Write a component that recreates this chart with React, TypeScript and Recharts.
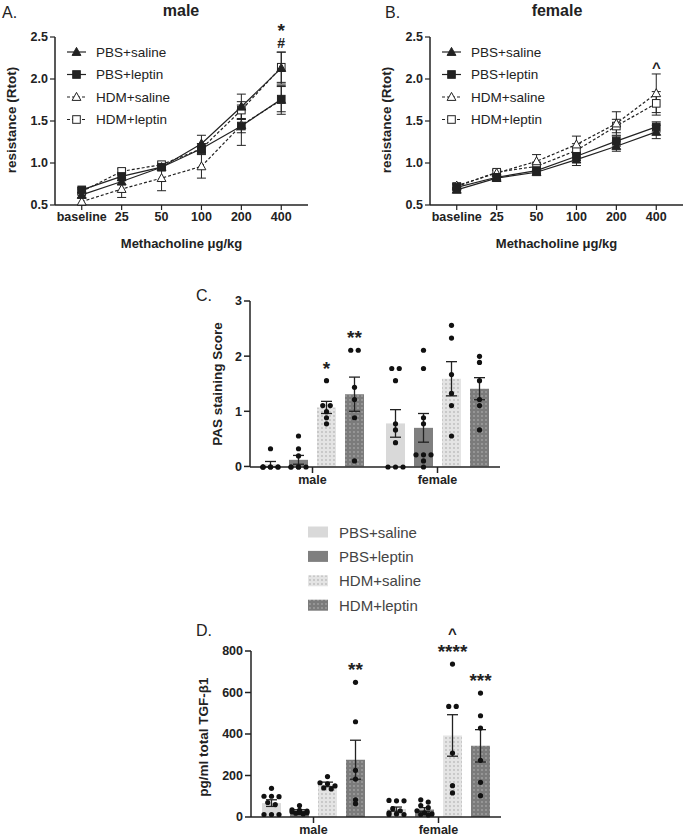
import React from 'react';
import {
  ComposedChart,
  Line,
  Bar,
  Scatter,
  XAxis,
  YAxis,
  ErrorBar,
  Legend,
  ReferenceDot
} from 'recharts';

const FONT = '"Liberation Sans", Arial, Helvetica, sans-serif';
const INK = '#222';

const doses = ['baseline', '25', '50', '100', '200', '400'];
const treatments = ['PBS+saline', 'PBS+leptin', 'HDM+saline', 'HDM+leptin'];
const sexes = ['male', 'female'];

// A. male airway resistance, mean and SEM per dose
const malePbsSaline = [0.62, 0.78, 0.95, 1.23, 1.67, 2.13];
const malePbsSalineSem = [0.03, 0.04, 0.03, 0.1, 0.15, 0.19];
const malePbsLeptin = [0.68, 0.84, 0.95, 1.17, 1.44, 1.76];
const malePbsLeptinSem = [0.03, 0.05, 0.03, 0.06, 0.08, 0.15];
const maleHdmSaline = [0.54, 0.69, 0.82, 0.96, 1.45, 1.75];
const maleHdmSalineSem = [0.04, 0.1, 0.15, 0.14, 0.24, 0.17];
const maleHdmLeptin = [0.66, 0.9, 0.98, 1.17, 1.63, 2.14];
const maleHdmLeptinSem = [0.03, 0.03, 0.03, 0.06, 0.1, 0.18];

// B. female airway resistance
const femalePbsSaline = [0.68, 0.82, 0.89, 1.04, 1.2, 1.37];
const femalePbsSalineSem = [0.03, 0.03, 0.03, 0.07, 0.06, 0.08];
const femalePbsLeptin = [0.71, 0.83, 0.91, 1.08, 1.26, 1.43];
const femalePbsLeptinSem = [0.03, 0.03, 0.03, 0.05, 0.06, 0.06];
const femaleHdmSaline = [0.73, 0.88, 1.02, 1.22, 1.47, 1.83];
const femaleHdmSalineSem = [0.03, 0.03, 0.08, 0.1, 0.14, 0.23];
const femaleHdmLeptin = [0.72, 0.89, 0.96, 1.15, 1.44, 1.71];
const femaleHdmLeptinSem = [0.03, 0.03, 0.05, 0.08, 0.08, 0.14];

// C. PAS staining score, [male, female]
const pasPbsSaline = [0.04, 0.78];
const pasPbsSalineSem = [0.05, 0.25];
const pasPbsLeptin = [0.12, 0.7];
const pasPbsLeptinSem = [0.08, 0.26];
const pasHdmSaline = [1.07, 1.59];
const pasHdmSalineSem = [0.11, 0.31];
const pasHdmLeptin = [1.31, 1.41];
const pasHdmLeptinSem = [0.31, 0.2];
const pasMaleDots = [
  [0.33, 0, 0, 0, 0, 0, 0, 0],
  [0.56, 0.33, 0.2, 0, 0, 0, 0, 0],
  [1.56, 1.11, 1.11, 1.0, 0.89, 0.78],
  [2.11, 2.11, 1.44, 1.22, 0.89, 0.11]
];
const pasFemaleDots = [
  [1.78, 1.78, 1.56, 0.78, 0.67, 0.44, 0, 0, 0],
  [2.11, 1.78, 0.89, 0.78, 0.22, 0.22, 0.22, 0.11, 0],
  [2.56, 2.33, 1.67, 1.33, 1.11, 0.56],
  [2.0, 1.89, 1.56, 1.22, 1.11, 0.67]
];

// D. total TGF-b1 pg/ml, [male, female]
const tgfPbsSaline = [67, 38];
const tgfPbsSalineSem = [16, 10];
const tgfPbsLeptin = [30, 36];
const tgfPbsLeptinSem = [5, 9];
const tgfHdmSaline = [157, 393];
const tgfHdmSalineSem = [11, 100];
const tgfHdmLeptin = [276, 343];
const tgfHdmLeptinSem = [94, 78];
const tgfMaleDots = [
  [138, 100, 100, 98, 70, 60, 12, 12, 12],
  [55, 35, 32, 28, 25, 22, 20, 18, 15],
  [195, 165, 160, 150, 140, 135],
  [649, 459, 225, 183, 83, 64]
];
const tgfFemaleDots = [
  [80, 78, 78, 40, 30, 20, 15, 12, 12],
  [83, 72, 55, 45, 30, 20, 15, 12, 10],
  [737, 533, 533, 308, 151, 116],
  [597, 488, 429, 273, 167, 103]
];

const lineStyles = [
  { shape: 'tri', open: false, dash: undefined as string | undefined },
  { shape: 'sq', open: false, dash: undefined as string | undefined },
  { shape: 'tri', open: true, dash: '3 2' },
  { shape: 'sq', open: true, dash: '3 2' }
];
const barFills = ['#d9d9d9', '#7f7f7f', 'url(#dotLight)', 'url(#dotDark)'];

const BAR_STEP = 28 / 125; // bar spacing in units of one category
const DOT_STEP = 0.06;

const barX = (g: number, s: number) => g + 0.5 + (s - 1.5) * BAR_STEP;

// spread tied values sideways like a prism scatter
function buildDotPoints(groups: number[][][], tol: number) {
  const out: { x: number; v: number }[] = [];
  groups.forEach((series, g) =>
    series.forEach((vals, s) => {
      const sorted = [...vals].sort((a, b) => b - a);
      let i = 0;
      while (i < sorted.length) {
        let j = i;
        while (j + 1 < sorted.length && sorted[i] - sorted[j + 1] <= tol) j++;
        const k = j - i + 1;
        for (let n = 0; n < k; n++) {
          const off = k <= 3 ? n - (k - 1) / 2 : (n % 3) - 1;
          out.push({ x: barX(g, s) + off * DOT_STEP, v: sorted[i + n] });
        }
        i = j + 1;
      }
    })
  );
  return out;
}

function barRows(means: number[][], sems: number[][]) {
  return sexes.map((sex, g) => {
    const r: any = { sex };
    means.forEach((m, i) => {
      r[`m${i}`] = m[g];
      r[`e${i}`] = sems[i][g];
    });
    return r;
  });
}

function Marker({ cx, cy, shape, open }: any) {
  if (cx == null || cy == null) return null;
  const fill = open ? '#fff' : INK;
  if (shape === 'tri') {
    return (
      <path
        d={`M${cx},${cy - 4.6}L${cx + 4.4},${cy + 3.4}L${cx - 4.4},${cy + 3.4}Z`}
        fill={fill}
        stroke={INK}
        strokeWidth={1}
      />
    );
  }
  return <rect x={cx - 3.8} y={cy - 3.8} width={7.6} height={7.6} fill={fill} stroke={INK} strokeWidth={1} />;
}

function SigText(props: any) {
  const vb = props.viewBox || {};
  const cx = (vb.x ?? 0) + (vb.width ?? 0) / 2;
  const cy = (vb.y ?? 0) + (vb.height ?? 0) / 2;
  const { lines, gap, step } = props;
  return (
    <g>
      {lines.map((t: string, i: number) => {
        const star = t.includes('*');
        const fs = star ? 19 : t === '#' ? 14 : 15;
        const lift = star ? 0.58 : t === '#' ? 0.36 : 0.52;
        const yc = cy - gap - i * step;
        return (
          <text key={i} x={cx} y={yc + lift * fs} textAnchor="middle" fontSize={fs} fontWeight={700} fill={INK}>
            {t}
          </text>
        );
      })}
    </g>
  );
}

function LineLegend() {
  return (
    <svg width={125} height={88} style={{ display: 'block' }}>
      {treatments.map((t, i) => {
        const cy = 8 + i * 22.5;
        const st = lineStyles[i];
        return (
          <g key={t}>
            <line x1={0} x2={19} y1={cy} y2={cy} stroke={INK} strokeWidth={1.2} strokeDasharray={st.dash} />
            <Marker cx={9.5} cy={cy} shape={st.shape} open={st.open} />
            <text x={29} y={cy} dominantBaseline="central" fontSize={13.5} fill={INK}>
              {t}
            </text>
          </g>
        );
      })}
    </svg>
  );
}

function BarLegend() {
  return (
    <svg width={140} height={100} style={{ display: 'block' }}>
      {treatments.map((t, i) => {
        const cy = 10 + i * 24.4;
        return (
          <g key={t}>
            <rect x={0} y={cy - 5.5} width={20} height={11} fill={barFills[i]} />
            <text x={31} y={cy} dominantBaseline="central" fontSize={15} fill="#444">
              {t}
            </text>
          </g>
        );
      })}
    </svg>
  );
}

interface ResistanceProps {
  left: number;
  means: number[][];
  sems: number[][];
  sig: string[];
}

function ResistancePanel({ left, means, sems, sig }: ResistanceProps) {
  const rows = doses.map((d, x) => {
    const r: any = { x, dose: d };
    means.forEach((m, i) => {
      r[`m${i}`] = m[x];
      r[`e${i}`] = sems[i][x];
    });
    return r;
  });
  const last = doses.length - 1;
  const peak = Math.max(...means.map((m, i) => m[last] + sems[i][last]));

  return (
    <div style={{ position: 'absolute', left, top: 0 }}>
      <ComposedChart width={310} height={260} data={rows} margin={{ top: 37, right: 2, bottom: 10, left: 4 }}>
        <XAxis
          dataKey="x"
          type="number"
          domain={[-0.67, 5.67]}
          ticks={[0, 1, 2, 3, 4, 5]}
          interval={0}
          tickFormatter={(v: number) => doses[Math.round(v)]}
          height={45}
          axisLine={{ stroke: INK, strokeWidth: 1.5 }}
          tickLine={{ stroke: INK, strokeWidth: 1.2 }}
          tickSize={5}
          tick={{ fill: INK, fontSize: 12.5, fontWeight: 700 }}
          label={{ value: 'Methacholine μg/kg', position: 'insideBottom', offset: 2, fill: INK, fontSize: 13, fontWeight: 700 }}
        />
        <YAxis
          type="number"
          domain={[0.5, 2.5]}
          ticks={[0.5, 1, 1.5, 2, 2.5]}
          interval={0}
          tickFormatter={(v: number) => v.toFixed(1)}
          width={51}
          axisLine={{ stroke: INK, strokeWidth: 1.5 }}
          tickLine={{ stroke: INK, strokeWidth: 1.2 }}
          tickSize={5}
          tick={{ fill: INK, fontSize: 12.5, fontWeight: 700 }}
        />
        {[3, 2, 1, 0].map((i) => (
          <Line
            key={treatments[i]}
            name={treatments[i]}
            dataKey={`m${i}`}
            stroke={INK}
            strokeWidth={1.2}
            strokeDasharray={lineStyles[i].dash}
            isAnimationActive={false}
            activeDot={false}
            dot={(p: any) => (
              <Marker key={`${i}-${p.index}`} cx={p.cx} cy={p.cy} shape={lineStyles[i].shape} open={lineStyles[i].open} />
            )}
          >
            <ErrorBar dataKey={`e${i}`} width={4.5} stroke={INK} strokeWidth={1} />
          </Line>
        ))}
        <ReferenceDot
          x={last}
          y={peak}
          r={0}
          ifOverflow="visible"
          label={<SigText lines={sig} gap={9} step={17} />}
        />
        <Legend
          layout="vertical"
          align="center"
          verticalAlign="middle"
          wrapperStyle={{ left: 67, top: 44 }}
          content={() => <LineLegend />}
        />
      </ComposedChart>
    </div>
  );
}

interface SigMark {
  group: number;
  series: number;
  lines: string[];
}

interface BarPanelProps {
  top: number;
  height: number;
  marginTop: number;
  bottom: number;
  yWidth: number;
  rows: any[];
  dots: number[][][];
  yMax: number;
  ticks: number[];
  tol: number;
  sig: SigMark[];
  legend?: boolean;
}

function BarPanel({ top, height, marginTop, bottom, yWidth, rows, dots, yMax, ticks, tol, sig, legend }: BarPanelProps) {
  const pts = buildDotPoints(dots, tol);
  return (
    <div style={{ position: 'absolute', left: 200, top }}>
      <ComposedChart
        width={310}
        height={height}
        data={rows}
        margin={{ top: marginTop, right: 60 - yWidth, bottom, left: 0 }}
        barSize={19}
        barGap={9}
      >
        <XAxis
          xAxisId="c"
          dataKey="sex"
          height={23}
          axisLine={{ stroke: INK, strokeWidth: 1.5 }}
          tickLine={{ stroke: INK, strokeWidth: 1.5 }}
          tickSize={6}
          tick={{ fill: INK, fontSize: 12.5, fontWeight: 700 }}
        />
        <XAxis xAxisId="n" type="number" dataKey="x" domain={[0, 2]} hide />
        <YAxis
          yAxisId="l"
          type="number"
          domain={[0, yMax]}
          ticks={ticks}
          interval={0}
          width={yWidth}
          axisLine={{ stroke: INK, strokeWidth: 1.5 }}
          tickLine={{ stroke: INK, strokeWidth: 1.5 }}
          tickSize={6}
          tick={{ fill: INK, fontSize: 12.5, fontWeight: 700 }}
        />
        <YAxis yAxisId="s" type="number" dataKey="v" domain={[0, yMax]} hide />
        {treatments.map((t, i) => (
          <Bar key={t} name={t} xAxisId="c" yAxisId="l" dataKey={`m${i}`} fill={barFills[i]} isAnimationActive={false}>
            <ErrorBar dataKey={`e${i}`} width={5.5} stroke={INK} strokeWidth={1.3} />
          </Bar>
        ))}
        <Scatter
          data={pts}
          xAxisId="n"
          yAxisId="s"
          dataKey="v"
          isAnimationActive={false}
          shape={(p: any) => <circle cx={p.cx} cy={p.cy} r={2.6} fill="#111" />}
        />
        {sig.map((s) => (
          <ReferenceDot
            key={`${s.group}-${s.series}`}
            xAxisId="n"
            yAxisId="s"
            x={barX(s.group, s.series)}
            y={Math.max(...dots[s.group][s.series])}
            r={0}
            ifOverflow="visible"
            label={<SigText lines={s.lines} gap={17} step={16} />}
          />
        ))}
        {legend && (
          <Legend
            layout="vertical"
            align="center"
            verticalAlign="middle"
            wrapperStyle={{ left: 108, top: 232 }}
            content={() => <BarLegend />}
          />
        )}
      </ComposedChart>
    </div>
  );
}

function Caption({ cx, cy, size, bold, children }: any) {
  const lh = size * 1.2;
  return (
    <div
      style={{
        position: 'absolute',
        left: cx - 100,
        top: cy - lh / 2,
        width: 200,
        height: lh,
        lineHeight: `${lh}px`,
        textAlign: 'center',
        fontSize: size,
        fontWeight: bold ? 700 : 400,
        whiteSpace: 'nowrap'
      }}
    >
      {children}
    </div>
  );
}

function VCaption({ cx, cy, size, children }: any) {
  const lh = size * 1.2;
  return (
    <div
      style={{
        position: 'absolute',
        left: cx - 100,
        top: cy - lh / 2,
        width: 200,
        height: lh,
        lineHeight: `${lh}px`,
        textAlign: 'center',
        fontSize: size,
        fontWeight: 700,
        whiteSpace: 'nowrap',
        transform: 'rotate(-90deg)'
      }}
    >
      {children}
    </div>
  );
}

function Corner({ x, cy, children }: any) {
  return (
    <div style={{ position: 'absolute', left: x, top: cy - 10, height: 20, lineHeight: '20px', fontSize: 16 }}>
      {children}
    </div>
  );
}

export default function App() {
  const pasRows = barRows(
    [pasPbsSaline, pasPbsLeptin, pasHdmSaline, pasHdmLeptin],
    [pasPbsSalineSem, pasPbsLeptinSem, pasHdmSalineSem, pasHdmLeptinSem]
  );
  const tgfRows = barRows(
    [tgfPbsSaline, tgfPbsLeptin, tgfHdmSaline, tgfHdmLeptin],
    [tgfPbsSalineSem, tgfPbsLeptinSem, tgfHdmSalineSem, tgfHdmLeptinSem]
  );

  return (
    <div
      style={{
        position: 'absolute',
        left: 0,
        top: 0,
        width: 685,
        height: 840,
        background: '#fff',
        color: INK,
        fontFamily: FONT,
        overflow: 'hidden'
      }}
    >
      <svg width={0} height={0} style={{ position: 'absolute' }}>
        <defs>
          <pattern id="dotLight" width={4} height={4} patternUnits="userSpaceOnUse">
            <rect width={4} height={4} fill="#e4e4e4" />
            <circle cx={2} cy={2} r={0.7} fill="#999" />
          </pattern>
          <pattern id="dotDark" width={4} height={4} patternUnits="userSpaceOnUse">
            <rect width={4} height={4} fill="#7b7b7b" />
            <circle cx={2} cy={2} r={0.7} fill="#c4c4c4" />
          </pattern>
        </defs>
      </svg>

      <ResistancePanel
        left={0}
        means={[malePbsSaline, malePbsLeptin, maleHdmSaline, maleHdmLeptin]}
        sems={[malePbsSalineSem, malePbsLeptinSem, maleHdmSalineSem, maleHdmLeptinSem]}
        sig={['#', '*']}
      />
      <ResistancePanel
        left={375}
        means={[femalePbsSaline, femalePbsLeptin, femaleHdmSaline, femaleHdmLeptin]}
        sems={[femalePbsSalineSem, femalePbsLeptinSem, femaleHdmSalineSem, femaleHdmLeptinSem]}
        sig={['^']}
      />

      <BarPanel
        top={290}
        height={330}
        marginTop={11}
        bottom={130}
        yWidth={50}
        rows={pasRows}
        dots={[pasMaleDots, pasFemaleDots]}
        yMax={3}
        ticks={[0, 1, 2, 3]}
        tol={0.05}
        sig={[
          { group: 0, series: 2, lines: ['*'] },
          { group: 0, series: 3, lines: ['**'] }
        ]}
        legend
      />
      <BarPanel
        top={620}
        height={220}
        marginTop={31}
        bottom={0}
        yWidth={51}
        rows={tgfRows}
        dots={[tgfMaleDots, tgfFemaleDots]}
        yMax={800}
        ticks={[0, 200, 400, 600, 800]}
        tol={15}
        sig={[
          { group: 0, series: 3, lines: ['**'] },
          { group: 1, series: 2, lines: ['****', '^'] },
          { group: 1, series: 3, lines: ['***'] }
        ]}
      />

      <Corner x={2} cy={13}>A.</Corner>
      <Corner x={385} cy={13}>B.</Corner>
      <Corner x={196} cy={296}>C.</Corner>
      <Corner x={196} cy={631}>D.</Corner>

      <Caption cx={181} cy={11} size={16} bold>
        male
      </Caption>
      <Caption cx={557} cy={11} size={16} bold>
        female
      </Caption>

      <VCaption cx={12} cy={120} size={13.5}>
        resistance (Rtot)
      </VCaption>
      <VCaption cx={387} cy={120} size={13.5}>
        resistance (Rtot)
      </VCaption>
      <VCaption cx={218} cy={384} size={13.5}>
        PAS staining Score
      </VCaption>
      <VCaption cx={204} cy={737} size={13.5}>
        pg/ml total TGF-β1
      </VCaption>
    </div>
  );
}
